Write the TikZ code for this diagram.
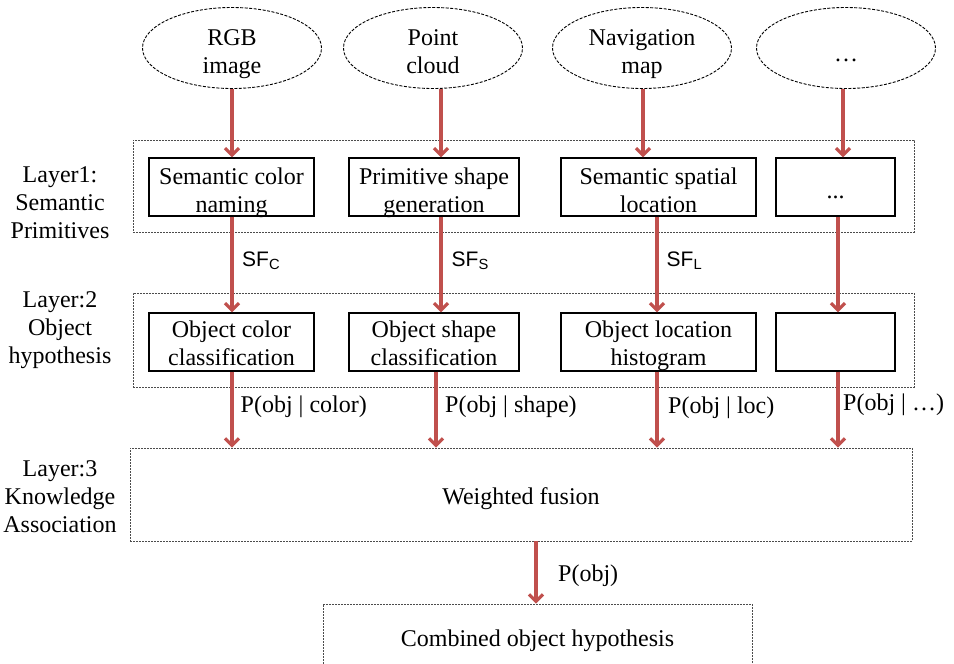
\documentclass[tikz,border=0pt]{standalone}
\usepackage{fontspec}
\setmainfont{Liberation Serif}
\newfontfamily\sflabelfont{Liberation Sans}
\usetikzlibrary{arrows.meta,shapes.geometric}
\definecolor{flow}{HTML}{C0504D}
\definecolor{framegray}{gray}{0.3}
\begin{document}
\begin{tikzpicture}[x=1pt,y=-1pt,
  every node/.style={font=\fontsize{24}{28}\selectfont, inner sep=0pt},
  source/.style={ellipse, draw, dash pattern=on 3pt off 1.5pt, line width=0.9pt,
    minimum width=179pt, minimum height=81pt},
  unit/.style={draw, line width=1.1pt, minimum height=58pt},
  frame/.style={draw=framegray, dash pattern=on 2pt off 1pt, line width=0.8pt},
  txt/.style={align=center, execute at begin node=\strut, execute at end node=\strut},
  flowarrow/.style={draw=flow, line width=3.2pt, -{Straight Barb[length=7pt,width=14pt]}},
  sflabel/.style={anchor=west, font=\sflabelfont\fontsize{21}{25}\selectfont,
    execute at begin node=\strut},
  plabel/.style={anchor=west, execute at begin node=\strut}]
\useasboundingbox (0,0) rectangle (954,664);

% column positions of the connectors
\coordinate (t1) at (232,0); \coordinate (t2) at (441,0);
\coordinate (t3) at (643,0); \coordinate (t4) at (843,0);
\coordinate (m1) at (232,0); \coordinate (m2) at (441,0);
\coordinate (m3) at (657,0); \coordinate (m4) at (838,0);
\coordinate (l1) at (232,0); \coordinate (l2) at (436,0);
\coordinate (l3) at (657,0); \coordinate (l4) at (838,0);
\coordinate (l5) at (536,0);

% input sources
\node[source] (e1) at (232,48) {};
\node[source] (e2) at (433,48) {};
\node[source] (e3) at (642,48) {};
\node[source] (e4) at (846,48) {};
\node[txt] (e1t) at (232,55.4) {RGB\\image};
\node[txt] (e2t) at (433,55.4) {Point\\cloud};
\node[txt] (e3t) at (642,55.4) {Navigation\\map};
\node[txt] (e4t) at (846,55.4) {\dots};

% layer 1: semantic primitives
\node[frame, minimum width=781pt, minimum height=92pt] (f1) at (523.5,186) {};
\node[unit, minimum width=165pt] (a1) at (231.5,187) {};
\node[unit, minimum width=170pt] (a2) at (434,187) {};
\node[unit, minimum width=195pt] (a3) at (658.5,187) {};
\node[unit, minimum width=119pt] (a4) at (835.5,187) {};
\node[txt] (a1t) at (231.5,194.7) {Semantic color\\naming};
\node[txt] (a2t) at (434,194.7) {Primitive shape\\generation};
\node[txt] (a3t) at (658.5,194.7) {Semantic spatial\\location};
\node[txt] (a4t) at (835.5,193) {...};

% layer 2: object hypothesis
\node[frame, minimum width=781pt, minimum height=94pt] (f2) at (523.5,340) {};
\node[unit, minimum width=165pt] (b1) at (231.5,342) {};
\node[unit, minimum width=170pt] (b2) at (434,342) {};
\node[unit, minimum width=195pt] (b3) at (658.5,342) {};
\node[unit, minimum width=119pt] (b4) at (835.5,342) {};
\node[txt] (b1t) at (231.5,347) {Object color\\classification};
\node[txt] (b2t) at (434,347) {Object shape\\classification};
\node[txt] (b3t) at (658.5,347) {Object location\\histogram};

% layer 3: knowledge association
\node[frame, minimum width=782pt, minimum height=93pt] (f3) at (521,494.5) {};
\node[txt] (f3t) at (521,499) {Weighted fusion};

% result
\node[frame, minimum width=429pt, minimum height=80pt] (out) at (537.5,644) {};
\node[txt] (outt) at (537.5,641) {Combined object hypothesis};

% layer names
\node[txt] (n1) at (60,207) {Layer1:\\Semantic\\Primitives};
\node[txt] (n2) at (60,332) {Layer:2\\Object\\hypothesis};
\node[txt] (n3) at (60,501) {Layer:3\\Knowledge\\Association};

% sources to layer 1
\draw[flowarrow] (e1.south -| t1) -- (a1.north -| t1);
\draw[flowarrow] (e2.south -| t2) -- (a2.north -| t2);
\draw[flowarrow] (e3.south -| t3) -- (a3.north -| t3);
\draw[flowarrow] (e4.south -| t4) -- (a4.north -| t4);

% layer 1 to layer 2
\draw[flowarrow] (a1.south -| m1) -- (b1.north -| m1);
\draw[flowarrow] (a2.south -| m2) -- (b2.north -| m2);
\draw[flowarrow] (a3.south -| m3) -- (b3.north -| m3);
\draw[flowarrow] (a4.south -| m4) -- (b4.north -| m4);

% layer 2 to layer 3
\draw[flowarrow] (b1.south -| l1) -- (f3.north -| l1);
\draw[flowarrow] (b2.south -| l2) -- (f3.north -| l2);
\draw[flowarrow] (b3.south -| l3) -- (f3.north -| l3);
\draw[flowarrow] (b4.south -| l4) -- (f3.north -| l4);

% fusion to result
\draw[flowarrow] (f3.south -| l5) -- (out.north -| l5);

% connector labels
\node[sflabel] (s1) at (242,261) {SF\textsubscript{C}};
\node[sflabel] (s2) at (451.5,261) {SF\textsubscript{S}};
\node[sflabel] (s3) at (666.5,261) {SF\textsubscript{L}};
\node[plabel] (p1) at (240.5,407) {P(obj | color)};
\node[plabel] (p2) at (445,407) {P(obj | shape)};
\node[plabel] (p3) at (668,407.5) {P(obj | loc)};
\node[plabel] (p4) at (843,405) {P(obj | \dots)};
\node[plabel] (p5) at (558,576) {P(obj)};
\end{tikzpicture}
\end{document}
